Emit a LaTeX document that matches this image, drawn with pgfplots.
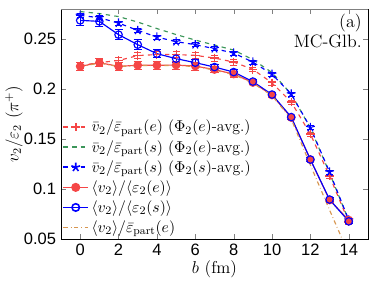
\documentclass[border=0pt]{standalone}
\usepackage{fontspec}
\usepackage{pgfplots}
\usepackage{pgfplotstable}
\pgfplotsset{compat=1.18}
\newfontfamily\tickfont{Liberation Sans}
\definecolor{myred}{RGB}{245,70,70}
\definecolor{mygreen}{RGB}{60,150,90}
\definecolor{myorange}{RGB}{215,150,80}
\pgfplotstableread{
b  rp     rpe    g      st     ste    rc     rce    bc     bce    or
0  0.2235 0.003  0.2775 0.2737 0.002  0.2227 0.004  0.2687 0.005  0.2225
1  0.2265 0.003  0.2755 0.2713 0.002  0.2264 0.004  0.2677 0.005  0.2260
2  0.2285 0.003  0.2725 0.2660 0.002  0.2227 0.004  0.2544 0.005  0.2225
3  0.2335 0.003  0.2670 0.2587 0.002  0.2238 0.004  0.2444 0.005  0.2235
4  0.2345 0.003  0.2605 0.2520 0.002  0.2238 0.004  0.2354 0.004  0.2235
5  0.2345 0.003  0.2545 0.2474 0.002  0.2240 0.004  0.2304 0.004  0.2235
6  0.2337 0.003  0.2490 0.2444 0.002  0.2230 0.004  0.2264 0.003  0.2225
7  0.2310 0.003  0.2440 0.2404 0.002  0.2195 0.003  0.2220 0.003  0.2190
8  0.2270 0.003  0.2390 0.2360 0.002  0.2150 0.003  0.2170 0.003  0.2145
9  0.2197 0.002  0.2295 0.2270 0.002  0.2065 0.002  0.2075 0.002  0.2060
10 0.2062 0.002  0.2165 0.2148 0.002  0.1940 0.002  0.1945 0.002  0.1935
11 0.1870 0.002  0.1950 0.1950 0.002  0.1715 0.002  0.1720 0.002  0.1700
12 0.1550 0.002  0.1610 0.1615 0.002  0.1295 0.002  0.1295 0.002  0.1240
13 0.1130 0.002  0.1160 0.1170 0.002  0.0890 0.002  0.0895 0.002  0.0790
14 0.0670 0.002  0.0685 0.0690 0.002  0.0690 0.002  0.0677 0.002  0.0350
}\datatab
\begin{document}
\begin{tikzpicture}
\begin{axis}[name=ax, scale only axis, width=213.4bp, height=159.9bp,
  xmin=-1, xmax=15, ymin=0.05, ymax=0.28,
  xtick={0,2,...,14}, ytick={0.05,0.1,0.15,0.2,0.25},
  tick align=inside, major tick length=3.5bp,
  clip=true,
  xlabel={$b$ (fm)}, ylabel={$v_2/\varepsilon_2$ $(\pi^+)$},
  label style={font=\fontsize{12}{14}\selectfont},
  xlabel style={at={([yshift=-20.9bp]rel axis cs:0.5,0)}, anchor=center},
  ylabel style={at={([xshift=-32.7bp]rel axis cs:0,0.5)}, anchor=center},
  tick label style={font=\tickfont\fontsize{11.5}{13}\selectfont},
  /pgf/number format/assume math mode=true,
  yticklabel style={/pgf/number format/fixed,/pgf/number format/precision=2},
  legend style={draw=none, fill=none, at={(rel axis cs:0,0)}, anchor=south west,
    font=\fontsize{11}{13}\selectfont, row sep=0.3pt, inner sep=1pt},
  legend cell align=left,
  legend image post style={line width=1.1pt},
  error bars/error bar style={line width=0.6pt},
]
\addplot[myred, dashed, line width=0.8pt, mark=+, mark size=3bp, mark options={solid, myred},
  error bars/.cd, y dir=both, y explicit, error mark options={rotate=90, mark size=2.5bp, solid}]
  table[x=b, y=rp, y error=rpe]{\datatab};
\addlegendentry{$\bar{v}_2/\bar{\varepsilon}_{\mathrm{part}}(e)$\ $(\Phi_2(e)$-avg.$)$}
\addplot[mygreen, dashed, line width=0.8pt] table[x=b, y=g]{\datatab};
\addlegendentry{$\bar{v}_2/\bar{\varepsilon}_{\mathrm{part}}(s)$\ $(\Phi_2(e)$-avg.$)$}
\addplot[blue, dashed, line width=0.8pt, mark=star, mark size=3.2bp, mark options={solid},
  error bars/.cd, y dir=both, y explicit, error mark options={rotate=90, mark size=2.5bp, solid}]
  table[x=b, y=st, y error=ste]{\datatab};
\addlegendentry{$\bar{v}_2/\bar{\varepsilon}_{\mathrm{part}}(s)$\ $(\Phi_2(s)$-avg.$)$}
\addplot[myred, line width=0.8pt, mark=*, mark size=2.6bp,
  error bars/.cd, y dir=both, y explicit, error mark options={rotate=90, mark size=2.8bp}]
  table[x=b, y=rc, y error=rce]{\datatab};
\addlegendentry{$\langle v_2\rangle/\langle\varepsilon_2(e)\rangle$}
\addplot[blue, line width=0.8pt, mark=o, mark size=2.6bp,
  error bars/.cd, y dir=both, y explicit, error mark options={rotate=90, mark size=2.8bp}]
  table[x=b, y=bc, y error=bce]{\datatab};
\addlegendentry{$\langle v_2\rangle/\langle\varepsilon_2(s)\rangle$}
\addplot[myorange, dash dot, line width=0.8pt] table[x=b, y=or]{\datatab};
\addlegendentry{$\langle v_2\rangle/\bar{\varepsilon}_{\mathrm{part}}(e)$}
\node[anchor=north east, align=right, inner sep=0pt, font=\fontsize{12.5}{14}\selectfont]
  at ([xshift=-4.2bp,yshift=-3bp]rel axis cs:1,1) {(a)\\MC-Glb.};
\draw[gray, line width=0.9pt] (rel axis cs:0,1) -- (rel axis cs:1,1);
\end{axis}
\pgfresetboundingbox
\path[use as bounding box] ([shift={(-42.4bp,-29.9bp)}]ax.south west) rectangle ([shift={(4.2bp,6.3bp)}]ax.north east);
\end{tikzpicture}
\end{document}
